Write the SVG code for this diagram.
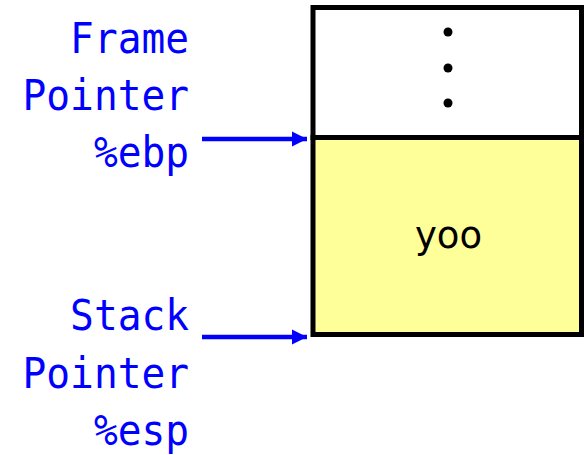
<svg xmlns="http://www.w3.org/2000/svg" width="584" height="455" viewBox="0 0 584 455">
  <style>
    .lbl { font-family: "DejaVu Sans Mono", "Liberation Mono", monospace; font-size: 39.5px; fill: #0000ff; text-anchor: end; }
    .cell { stroke: #000; stroke-width: 5; }
    .ptr { stroke: #0000ff; stroke-width: 4.5; fill: none; }
    .dot { fill: #000; }
    .val { font-family: "DejaVu Sans", "Liberation Sans", sans-serif; font-size: 37px; fill: #000; text-anchor: middle; }
  </style>
  <defs>
    <marker id="head" markerUnits="userSpaceOnUse" markerWidth="16" markerHeight="16" refX="15" refY="8" orient="auto">
      <path d="M0,0.5 L15,8 L0,15.5 Z" fill="#0000ff"/>
    </marker>
  </defs>
  <rect width="584" height="455" fill="#fff"/>

  <!-- stack frame: upper (elided) cell and current frame -->
  <g id="upper-cell">
    <rect class="cell" x="313" y="7.5" width="268.5" height="130" fill="#fff"/>
    <circle class="dot" cx="448" cy="32" r="4.5"/>
    <circle class="dot" cx="448" cy="68" r="4.5"/>
    <circle class="dot" cx="448" cy="103" r="4.5"/>
  </g>
  <g id="frame-cell">
    <rect class="cell" x="313" y="137.5" width="268.5" height="197" fill="#ffff99"/>
    <text class="val" transform="translate(448.5,248) scale(1,1.06)">yoo</text>
  </g>

  <!-- register labels (slightly tall type) -->
  <g id="frame-pointer">
    <text class="lbl" transform="translate(189,53) scale(1,1.08)">Frame</text>
    <text class="lbl" transform="translate(189,110) scale(1,1.08)">Pointer</text>
    <text class="lbl" transform="translate(189,167) scale(1,1.08)">%ebp</text>
  </g>
  <g id="stack-pointer">
    <text class="lbl" transform="translate(189,330) scale(1,1.08)">Stack</text>
    <text class="lbl" transform="translate(189,388) scale(1,1.08)">Pointer</text>
    <text class="lbl" transform="translate(189,445) scale(1,1.08)">%esp</text>
  </g>

  <!-- pointer arrows -->
  <g id="connectors">
    <line class="ptr" x1="202" y1="139" x2="307" y2="139" marker-end="url(#head)"/>
    <line class="ptr" x1="202" y1="337" x2="307" y2="337" marker-end="url(#head)"/>
  </g>
</svg>
